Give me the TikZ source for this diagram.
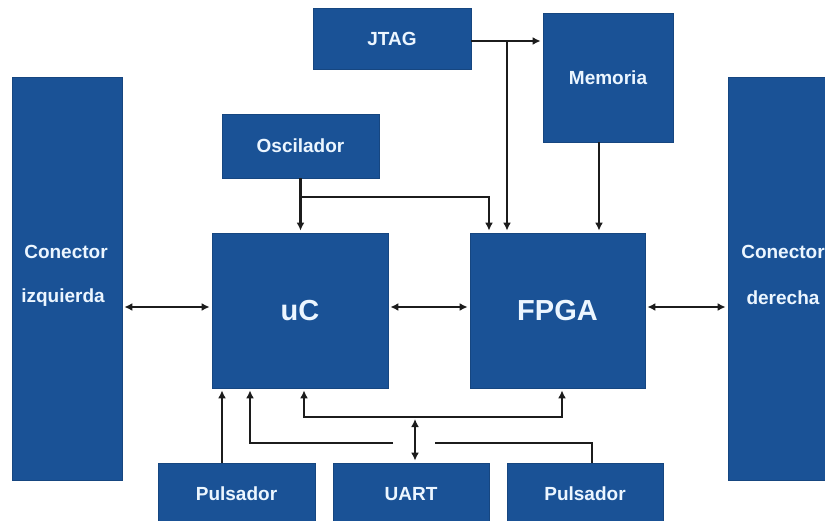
\documentclass[tikz,border=0pt]{standalone}
\usepackage{fontspec}
\setmainfont{Liberation Sans}
\usetikzlibrary{arrows.meta}
\definecolor{boxblue}{RGB}{26,82,150}
\definecolor{wire}{RGB}{28,28,28}
\definecolor{txt}{RGB}{236,246,255}

\begin{document}
\begin{tikzpicture}[x=1pt,y=-1pt,
  blk/.style={fill=boxblue, draw=boxblue!85!black, line width=0.8pt, inner sep=0pt,
              text=txt, font=\bfseries\fontsize{19}{22}\selectfont},
  lbl/.style={text=txt, inner sep=0pt, font=\bfseries\fontsize{19}{22}\selectfont},
  big/.style={font=\bfseries\fontsize{29}{32}\selectfont},
  wirestyle/.style={draw=wire, line width=2.2pt},
  tip/.style={wirestyle, -{Latex[length=8pt,width=8pt]}, shorten >=2pt},
  both/.style={wirestyle, {Latex[length=8pt,width=8pt]}-{Latex[length=8pt,width=8pt]},
               shorten >=2pt, shorten <=2pt},
]
\useasboundingbox (0,0) rectangle (825,521);
\clip (0,0) rectangle (825,521);

% blocks
\node[blk, minimum width=110, minimum height=403] (lcon) at (67,278.5) {};
\node[blk, minimum width=110, minimum height=403] (rcon) at (783,278.5) {};
\node[blk, big, minimum width=176, minimum height=155] (uc) at (300,310.5) {uC};
\node[blk, big, minimum width=175, minimum height=155] (fpga) at (557.5,310.5) {FPGA};
\node[blk, minimum width=157, minimum height=64] (osc) at (300.5,146) {Oscilador};
\node[blk, minimum width=158, minimum height=61] (jtag) at (392,38.5) {JTAG};
\node[blk, minimum width=130, minimum height=129] (mem) at (608,77.5) {Memoria};
\node[blk, minimum width=157, minimum height=62] (pl) at (236.5,494) {Pulsador};
\node[blk, minimum width=156, minimum height=62] (uart) at (411,494) {UART};
\node[blk, minimum width=156, minimum height=62] (pr) at (585,494) {Pulsador};

% connector captions
\node[lbl] (lconA) at (66,252) {Conector};
\node[lbl] (lconB) at (63,298) {izquierda};
\node[lbl] (rconA) at (783,252) {Conector};
\node[lbl] (rconB) at (783,298) {derecha};

% reference rows and columns for the wiring
\coordinate (ymid) at (0,307);
\coordinate (yosc) at (0,197);
\coordinate (yjt)  at (0,41);
\coordinate (ybus) at (0,417);
\coordinate (yrow) at (0,443);
\coordinate (xosc) at (489,0);
\coordinate (xjt)  at (507,0);
\coordinate (xmem) at (599,0);
\coordinate (xpl)  at (222,0);
\coordinate (xpr)  at (250,0);
\coordinate (xbl)  at (304,0);
\coordinate (xbr)  at (562,0);
\coordinate (xua)  at (415,0);
\coordinate (xprr) at (592,0);
\coordinate (gapL) at (393,443);
\coordinate (gapR) at (435,443);

% horizontal data links
\draw[both] (lcon.east |- ymid) -- (uc.west |- ymid);
\draw[both] (uc.east |- ymid) -- (fpga.west |- ymid);
\draw[both] (fpga.east |- ymid) -- (rcon.west |- ymid);

% clock
\draw[tip] (osc.south) -- (osc.south |- uc.north);
\draw[tip] (osc.south |- yosc) -| (xosc |- fpga.north);

% JTAG and memory
\draw[tip] (jtag.east |- yjt) -- (mem.west |- yjt);
\draw[tip] (xjt |- yjt) -- (xjt |- fpga.north);
\draw[tip] (xmem |- mem.south) -- (xmem |- fpga.north);

% push buttons
\draw[tip] (xpl |- pl.north) -- (xpl |- uc.south);
\draw[tip] (gapL) -- (xpr |- yrow) -- (xpr |- uc.south);
\draw[wirestyle] (gapR) -| (xprr |- pr.north);

% UART bus
\draw[both] (xbl |- uc.south) -- (xbl |- ybus) -- (xbr |- ybus) -- (xbr |- fpga.south);
\draw[both] (xua |- uart.north) -- (xua |- ybus);
\end{tikzpicture}
\end{document}
